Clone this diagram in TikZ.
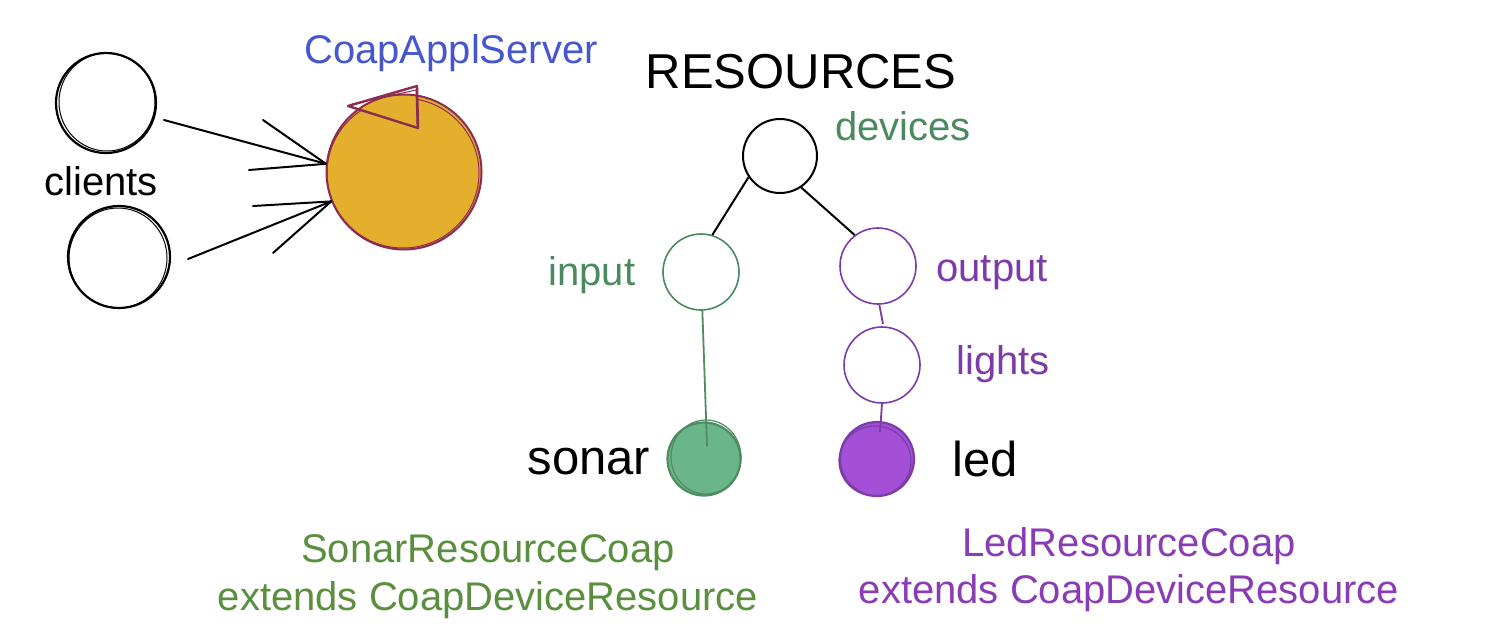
\documentclass[tikz,border=0pt]{standalone}
\usepackage{fontspec}
\setmainfont{Liberation Sans}
\definecolor{srvblue}{RGB}{70,86,206}
\definecolor{tgreen}{RGB}{74,138,94}
\definecolor{sgreenfill}{RGB}{107,181,138}
\definecolor{sgreenline}{RGB}{78,140,98}
\definecolor{olive}{RGB}{90,143,62}
\definecolor{tpurple}{RGB}{126,58,168}
\definecolor{ledfill}{RGB}{163,80,214}
\definecolor{ledline}{RGB}{124,60,170}
\definecolor{lpurple}{RGB}{138,60,180}
\definecolor{srvfill}{RGB}{227,175,44}
\definecolor{srvline}{RGB}{140,44,82}
\begin{document}
\begin{tikzpicture}[x=1pt,y=-1pt,
  lbl/.style={font=\fontsize{40}{46}\selectfont, anchor=base, inner sep=0pt},
  biglbl/.style={font=\fontsize{49}{56}\selectfont, anchor=base, inner sep=0pt},
  ring/.style={circle, inner sep=0pt, line width=1.6pt},
  sketch/.style={line width=2pt, line cap=round, line join=round}]
\useasboundingbox (0,0) rectangle (1487,641);
\fill[white] (0,0) rectangle (1487,641);

% clients
\node[ring, draw=black, line width=2.2pt, minimum size=100pt] (c1) at (106,103) {};
\draw[black, line width=1pt] (107,102) circle[x radius=48pt, y radius=49pt];
\node[ring, draw=black, line width=2.2pt, minimum size=102pt] (c2) at (119,257) {};
\draw[black, line width=1pt] (118,258) circle[x radius=49pt, y radius=50pt];
\node[lbl] (cl) at (101,195) {clients};

% server
\node[ring, fill=srvfill, draw=srvline, line width=2pt, minimum size=155pt] (srv) at (404,172) {};
\draw[srvline, line width=1pt] (403,173) circle[x radius=76pt, y radius=75pt];
\coordinate (t1) at (348,106);
\coordinate (t2) at (417,86);
\coordinate (t3) at (418,128);
\coordinate (t4) at (352,104);
\begin{scope}
  \clip (404,172) circle[radius=76pt];
  \fill[srvfill] (t1) -- (t2) -- (t3) -- cycle;
\end{scope}
\draw[srvline, sketch, line width=2.4pt] (t1) -- (t2) -- (t3) -- cycle;
\draw[srvline, line width=1pt, line cap=round] (t4) -- (416,90) -- (417,124);
\node[lbl, text=srvblue] (srvlbl) at (451,63) {CoapApplServer};

% arrows from clients
\coordinate (a1s) at (164,120);
\coordinate (h1a) at (263,120);
\coordinate (h1b) at (249,170);
\coordinate (a2s) at (188,259);
\coordinate (h2a) at (253,206);
\coordinate (h2b) at (273,253);
\draw[sketch] (a1s) -- (srv.174);
\draw[sketch] (h1a) -- (srv.174);
\draw[sketch] (h1b) -- (srv.174);
\draw[sketch] (a2s) -- (srv.202);
\draw[sketch] (h2a) -- (srv.202);
\draw[sketch] (h2b) -- (srv.202);

% resources tree
\node[biglbl] (res) at (801,88) {RESOURCES};
\node[ring, draw=black, line width=2pt, minimum size=74pt] (dev) at (780,156) {};
\node[lbl, text=tgreen] (devlbl) at (903,140) {devices};

\node[ring, draw=tgreen, minimum size=76pt] (in) at (701,272) {};
\node[lbl, text=tgreen] (inlbl) at (592,285) {input};

\node[ring, draw=tpurple, minimum size=76pt] (out) at (878,266) {};
\node[lbl, text=tpurple] (outlbl) at (992,281) {output};

\node[ring, draw=tpurple, minimum size=76pt] (lig) at (882,365) {};
\node[lbl, text=tpurple] (liglbl) at (1003,374) {lights};

\node[ring, fill=sgreenfill, draw=sgreenline, line width=2.2pt, minimum size=73pt] (son) at (704,459) {};
\draw[sgreenline, line width=1.2pt] (706,457) circle[x radius=35pt, y radius=37pt];
\node[biglbl] (sonlbl) at (589,474) {sonar};

\node[ring, fill=ledfill, draw=ledline, line width=2.2pt, minimum size=74pt] (led) at (877,459) {};
\draw[ledline, line width=1.2pt] (875,461) circle[x radius=36pt, y radius=35pt];
\node[biglbl] (ledlbl) at (985,476) {led};

\draw[black, line width=2pt] (dev.214) -- (in.73);
\draw[black, line width=2pt] (dev.304) -- (out.127);
\coordinate (ligtop) at (883,324);
\draw[tpurple, line width=1.8pt] (out.272) -- (ligtop);
\coordinate (ledtop) at (880,432);
\draw[tpurple, line width=1.8pt] (lig.270) -- (ledtop);
\coordinate (sontop) at (707,446);
\draw[sgreenline, line width=1.8pt] (in.272) -- (sontop);

% class labels
\node[lbl, text=olive] (sc1) at (488,562) {SonarResourceCoap};
\node[lbl, text=olive] (sc2) at (488,610) {extends CoapDeviceResource};
\node[lbl, text=lpurple] (lc1) at (1129,556) {LedResourceCoap};
\node[lbl, text=lpurple] (lc2) at (1129,603) {extends CoapDeviceResource};
\end{tikzpicture}
\end{document}
